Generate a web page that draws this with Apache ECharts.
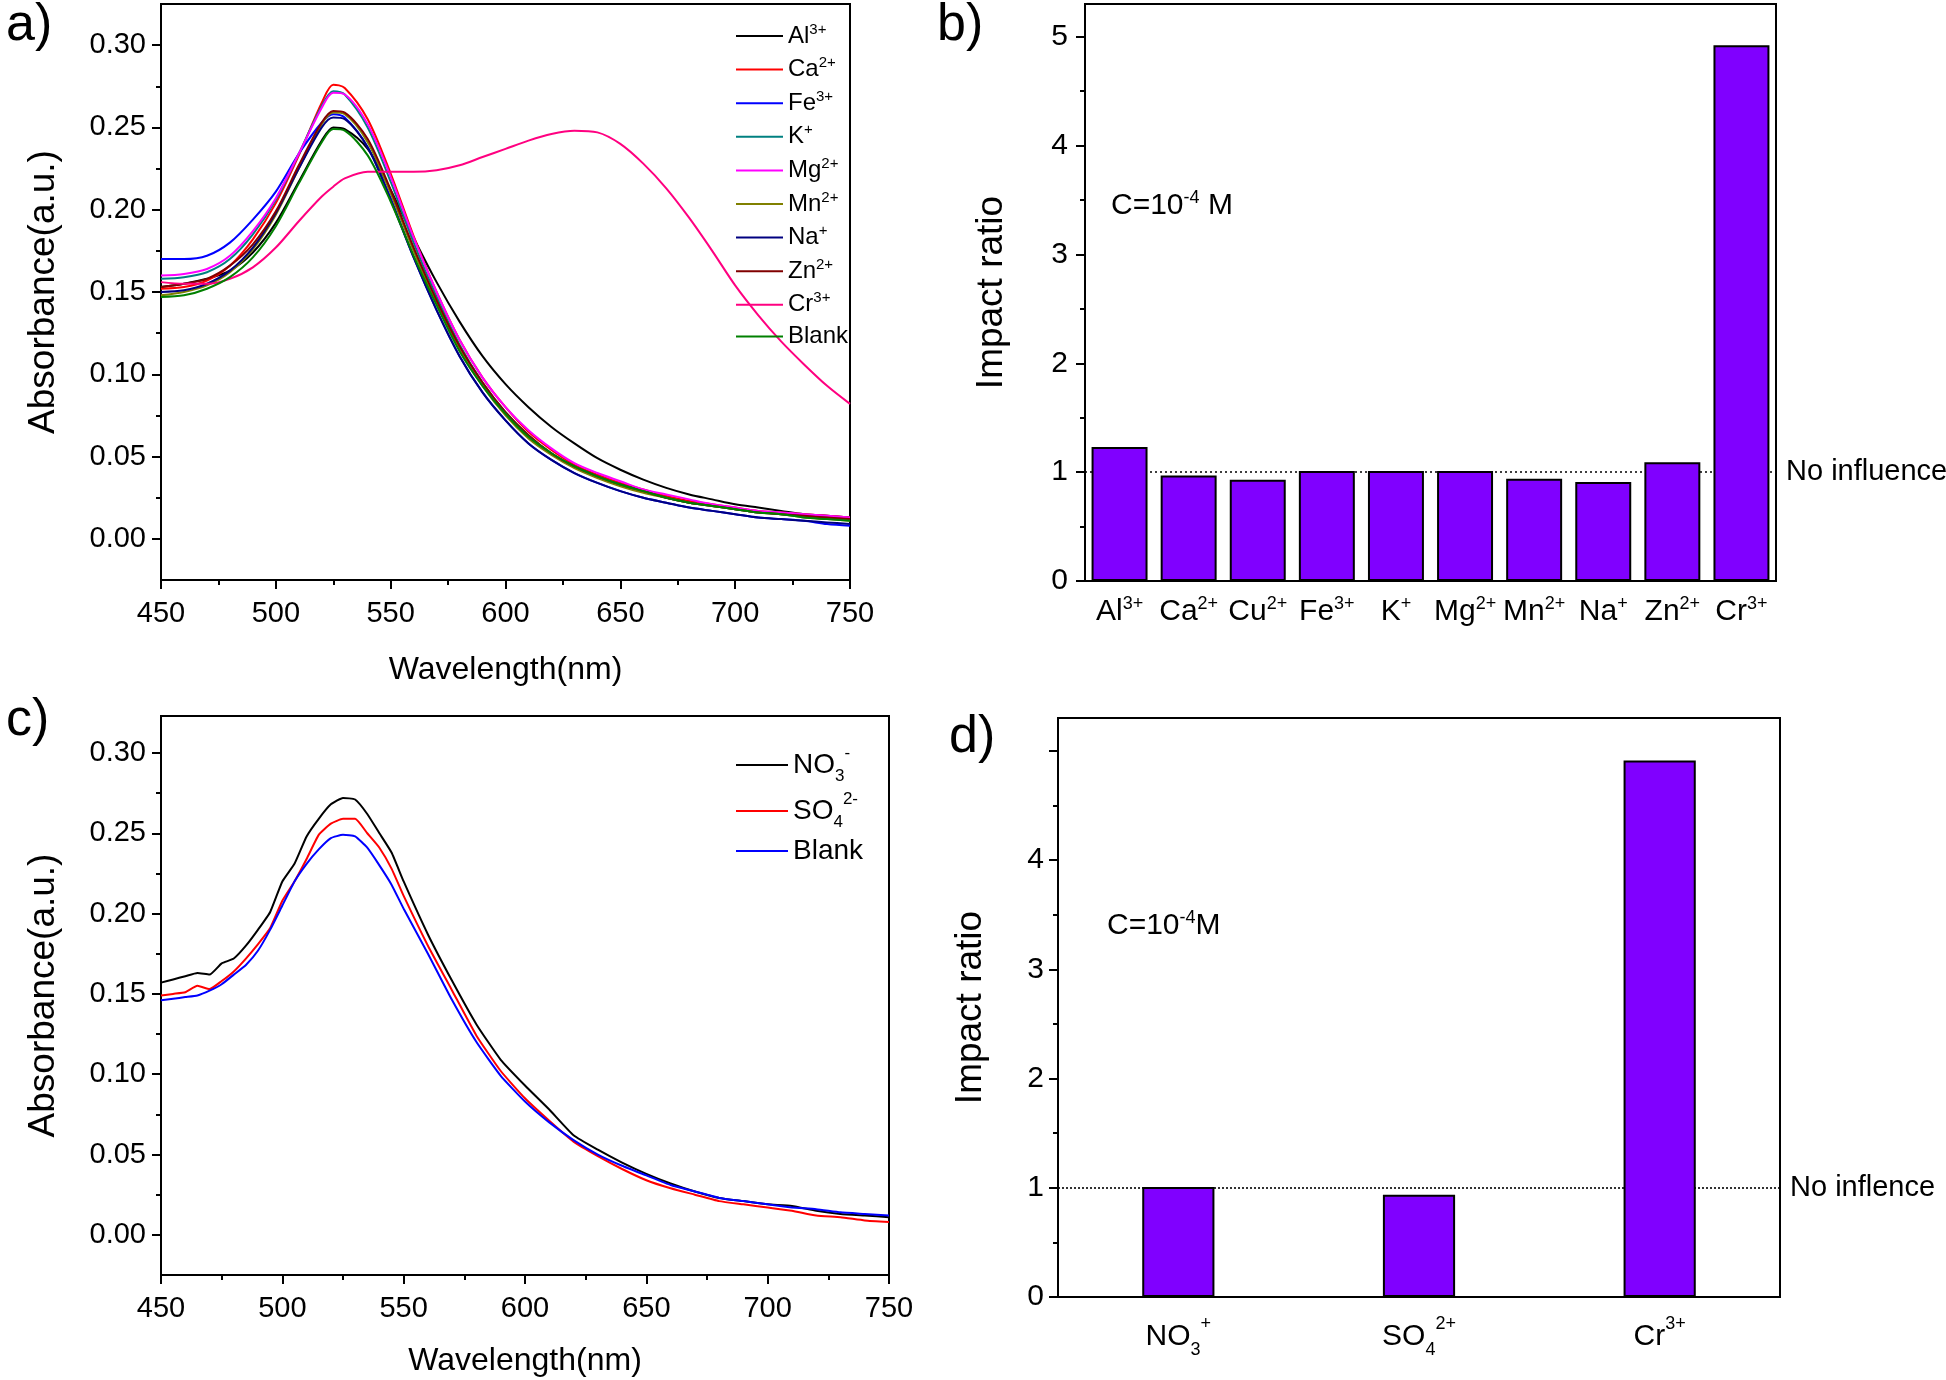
<!DOCTYPE html>
<html><head><meta charset="utf-8">
<script src="https://cdn.jsdelivr.net/npm/echarts@6/dist/echarts.min.js"></script>
<style>html,body{margin:0;padding:0;background:#fff}#c{width:1946px;height:1380px}</style>
</head><body><div id="c"></div>
<script>
// ---------- DATA ----------
const wlA = [450,460,470,480,490,500,510,520,525,530,540,550,560,570,580,590,600,610,620,630,640,650,660,670,680,690,700,710,720,730,740,750];
const ionsA = ['Al^3+','Ca^2+','Fe^3+','K^+','Mg^2+','Mn^2+','Na^+','Zn^2+','Cr^3+','Blank'];
const colorsA = ['#000000','#ff0000','#0000ff','#008080','#ff00ff','#808000','#000080','#800000','#ff0080','#008000'];
const absAl = [.153,.155,.158,.163,.174,.192,.217,.242,.250,.249,.237,.212,.183,.156,.132,.111,.094,.080,.068,.058,.049,.042,.036,.031,.027,.024,.021,.019,.017,.015,.014,.013];
const absCa = [.152,.153,.157,.166,.182,.204,.233,.265,.276,.274,.255,.222,.184,.150,.121,.098,.080,.065,.054,.045,.039,.034,.030,.026,.023,.021,.019,.017,.016,.015,.014,.013];
const absFe = [.170,.170,.172,.180,.194,.211,.234,.253,.258,.256,.238,.207,.171,.139,.111,.089,.072,.058,.048,.040,.034,.029,.025,.022,.019,.017,.015,.013,.012,.011,.009,.008];
const absK  = [.158,.159,.162,.170,.185,.206,.234,.263,.272,.270,.250,.217,.180,.147,.118,.095,.077,.063,.052,.044,.038,.033,.029,.025,.022,.020,.018,.016,.015,.014,.013,.012];
const absMg = [.160,.161,.164,.172,.187,.207,.234,.262,.271,.270,.252,.220,.183,.150,.121,.098,.080,.066,.055,.046,.040,.035,.030,.027,.024,.021,.019,.017,.016,.015,.014,.013];
const absMn = [.148,.150,.154,.162,.176,.197,.225,.252,.259,.258,.241,.210,.175,.143,.115,.093,.075,.061,.051,.043,.037,.032,.028,.025,.022,.020,.018,.016,.015,.013,.012,.011];
const absNa = [.150,.151,.155,.163,.177,.198,.225,.250,.256,.255,.238,.206,.171,.139,.111,.089,.072,.058,.048,.040,.034,.029,.025,.022,.019,.017,.015,.013,.012,.011,.010,.009];
const absZn = [.153,.155,.158,.166,.179,.199,.227,.253,.260,.259,.243,.212,.177,.145,.117,.095,.077,.063,.052,.044,.038,.033,.029,.025,.022,.020,.018,.016,.015,.014,.013,.012];
const absCr = [.156,.155,.155,.158,.165,.177,.193,.208,.214,.219,.223,.223,.223,.224,.227,.232,.237,.242,.246,.248,.247,.240,.228,.213,.195,.175,.154,.136,.120,.106,.093,.082];
const absBlankA = [.147,.148,.152,.159,.171,.190,.216,.241,.249,.248,.233,.205,.172,.142,.114,.093,.076,.062,.052,.044,.038,.033,.029,.025,.022,.020,.018,.016,.015,.013,.012,.011];
const seriesA = [absAl,absCa,absFe,absK,absMg,absMn,absNa,absZn,absCr,absBlankA];

const catsB = ['Al^3+','Ca^2+','Cu^2+','Fe^3+','K^+','Mg^2+','Mn^2+','Na^+','Zn^2+','Cr^3+'];
const ratioB = [1.23,0.97,0.93,1.01,1.01,1.01,0.94,0.91,1.09,4.92];

const wlC = [450,455,460,465,470,475,480,485,490,495,500,505,510,515,520,525,530,535,540,545,550,560,570,580,590,600,610,620,630,640,650,660,670,680,690,700,710,720,730,740,750];
const anionsC = ['NO_3^-','SO_4^2-','c:Blank'];
const colorsC = ['#000000','#ff0000','#0000ff'];
const absNO3 = [.157,.159,.161,.163,.162,.169,.172,.180,.190,.201,.220,.231,.248,.259,.268,.272,.271,.262,.250,.238,.220,.187,.158,.131,.109,.093,.078,.062,.053,.045,.038,.032,.027,.023,.021,.019,.018,.015,.013,.012,.011];
const absSO4 = [.149,.150,.151,.155,.153,.158,.164,.172,.181,.191,.208,.220,.234,.249,.256,.259,.259,.250,.241,.228,.211,.180,.152,.124,.102,.085,.071,.058,.049,.041,.034,.029,.025,.021,.019,.017,.015,.012,.011,.009,.008];
const absBlankC = [.146,.147,.148,.149,.152,.156,.162,.168,.177,.190,.205,.220,.231,.240,.247,.249,.248,.241,.230,.218,.203,.175,.146,.120,.099,.083,.070,.059,.050,.043,.037,.031,.027,.023,.021,.019,.017,.016,.014,.013,.012];
const seriesC = [absNO3,absSO4,absBlankC];

const catsD = ['NO_3^+','SO_4^2+','Cr^3+'];
const ratioD = [1.006,0.935,4.91];

const xMajor = [450,500,550,600,650,700,750];
const xMinor = [475,525,575,625,675,725];
const yMajorAbs = [0,0.05,0.10,0.15,0.20,0.25,0.30];
const yMinorAbs = [0.025,0.075,0.125,0.175,0.225,0.275];
const yMajorRatio = [0,1,2,3,4,5];
const yLabelsD = [0,1,2,3,4];
const yMinorRatio = [0.5,1.5,2.5,3.5,4.5];
const noInfluence = 1;

// ---------- STYLE ----------
const F = "'Liberation Sans', Arial, sans-serif";
const FN = "'Liberation Sans Narrow', 'Arial Narrow', 'Liberation Sans', sans-serif";
const LS = {color:'#000', width:2};

function rt(s){
  s = s.replace(/^c:/,'');
  const m = s.match(/^([^_^]*)(?:_([^^]+))?(?:\^(.+))?$/);
  let out = '{n|'+m[1]+'}';
  if (m[2]) out += '{sub|'+m[2]+'}';
  if (m[3]) out += '{sup|'+m[3]+'}';
  return out;
}
function rich(fam, n, lh, s, sl){
  return {
    n:{fontFamily:fam, fontSize:n, lineHeight:lh, color:'#000'},
    sup:{fontFamily:fam, fontSize:s, lineHeight:sl, verticalAlign:'top', color:'#000'},
    sub:{fontFamily:fam, fontSize:s, lineHeight:sl, verticalAlign:'bottom', color:'#000'}
  };
}

function valAxis(gi, pos, min, max, ticks, labels, fmt, margin, name, nameGap, nameSize, fam, fsize){
  return {gridIndex:gi, type:'value', position:pos, min:min, max:max,
    axisLine:{show:true, onZero:false, lineStyle:LS},
    axisTick:{show:true, customValues:ticks, length:9, lineStyle:LS},
    axisLabel:{show:true, customValues:labels, formatter:fmt, margin:margin, fontSize:fsize, fontFamily:fam, color:'#000'},
    splitLine:{show:false},
    name:name, nameLocation:'middle', nameGap:nameGap,
    nameTextStyle:{fontSize:nameSize, fontFamily:F, color:'#000'}};
}
function minorAxis(gi, pos, min, max, ticks){
  return {gridIndex:gi, type:'value', position:pos, min:min, max:max,
    axisLine:{show:false, onZero:false}, axisTick:{show:true, customValues:ticks, length:5, lineStyle:LS},
    axisLabel:{show:false}, splitLine:{show:false}};
}
function catAxis(gi, data, margin, rc){
  return {gridIndex:gi, type:'category', position:'bottom', data:data,
    axisLine:{show:true, onZero:false, lineStyle:LS}, axisTick:{show:false},
    axisLabel:{interval:0, margin:margin, formatter:v=>rt(v), rich:rc},
    splitLine:{show:false}};
}
const gridStyle = {show:true, borderColor:'#000', borderWidth:2, backgroundColor:'transparent', containLabel:false};

const series = [];
ionsA.forEach((n,i)=>{
  series.push({type:'line', name:n, xAxisIndex:0, yAxisIndex:0, symbol:'none', smooth:0.3,
    data: wlA.map((w,j)=>[w, seriesA[i][j]]),
    lineStyle:{width:2, color:colorsA[i]}, itemStyle:{color:colorsA[i]}});
});
anionsC.forEach((n,i)=>{
  series.push({type:'line', name:n, xAxisIndex:3, yAxisIndex:4, symbol:'none', smooth:0.15,
    data: wlC.map((w,j)=>[w, seriesC[i][j]]),
    lineStyle:{width:2, color:colorsC[i]}, itemStyle:{color:colorsC[i]}});
});
function barSeries(xi, yi, data, gapOpt, label, dash){
  return Object.assign({type:'bar', xAxisIndex:xi, yAxisIndex:yi, data:data, z:3,
    itemStyle:{color:'#8000ff', borderColor:'#000', borderWidth:2},
    markLine:{silent:true, symbol:'none', z:1, animation:false,
      lineStyle:{type:dash, color:'#000', width:1.6},
      label:{show:true, position:'end', formatter:label, fontFamily:FN, fontSize:29, color:'#000', distance:10, padding:[10,0,0,0]},
      data:[{yAxis:noInfluence}]}}, gapOpt);
}
series.push(barSeries(2, 2, ratioB, {barCategoryGap:'19%'}, 'No influence', [2,3]));
series.push(barSeries(5, 6, ratioD, {barWidth:'30%'}, 'No inflence', [2,2]));

const option = {
  animation:false,
  backgroundColor:'#fff',
  grid:[
    Object.assign({left:161, top:4, width:689, height:576}, gridStyle),
    Object.assign({left:1085, top:4, width:691, height:577}, gridStyle),
    Object.assign({left:161, top:716, width:728, height:559}, gridStyle),
    Object.assign({left:1058, top:718, width:722, height:579}, gridStyle)
  ],
  xAxis:[
    valAxis(0,'bottom',450,750,xMajor,xMajor,v=>String(v),19,'Wavelength(nm)',74,32,F,29),
    minorAxis(0,'bottom',450,750,xMinor),
    catAxis(1, catsB, 14, rich(FN,30,34,18,12)),
    valAxis(2,'bottom',450,750,xMajor,xMajor,v=>String(v),19,'Wavelength(nm)',70,32,F,29),
    minorAxis(2,'bottom',450,750,xMinor),
    catAxis(3, catsD, 18, rich(FN,30,44,18,12))
  ],
  yAxis:[
    valAxis(0,'left',-0.025,0.325,yMajorAbs,yMajorAbs,v=>v.toFixed(2),15,'Absorbance(a.u.)',99,37,F,29),
    minorAxis(0,'left',-0.025,0.325,yMinorAbs),
    valAxis(1,'left',0,5.3,yMajorRatio,yMajorRatio,v=>String(v),17,'Impact ratio',75,37,FN,30),
    minorAxis(1,'left',0,5.3,yMinorRatio),
    valAxis(2,'left',-0.025,0.323,yMajorAbs,yMajorAbs,v=>v.toFixed(2),15,'Absorbance(a.u.)',99,37,F,29),
    minorAxis(2,'left',-0.025,0.323,yMinorAbs),
    valAxis(3,'left',0,5.3,yMajorRatio,yLabelsD,v=>String(v),14,'Impact ratio',69,37,FN,30),
    minorAxis(3,'left',0,5.3,yMinorRatio)
  ],
  legend:[
    {data:ionsA, left:736, top:22, orient:'vertical', padding:0, icon:'rect', itemWidth:47, itemHeight:2, itemGap:7.6,
     selectedMode:false, formatter:n=>rt(n), textStyle:{rich:rich(F,24,28,15,8)}},
    {data:anionsC, left:736, top:745, orient:'vertical', padding:0, icon:'rect', itemWidth:52, itemHeight:2, itemGap:6,
     selectedMode:false, formatter:n=>rt(n), textStyle:{rich:rich(F,28,40,17,12)}}
  ],
  graphic:[
    {type:'text', left:6, top:0, style:{text:'a)', fontSize:52, fontFamily:F, fill:'#000'}},
    {type:'text', left:937, top:0, style:{text:'b)', fontSize:52, fontFamily:F, fill:'#000'}},
    {type:'text', left:6, top:695, style:{text:'c)', fontSize:52, fontFamily:F, fill:'#000'}},
    {type:'text', left:949, top:712, style:{text:'d)', fontSize:52, fontFamily:F, fill:'#000'}},
    {type:'text', x:1111, y:206, style:{text:'{n|C=10}{sup|-4}{n| M}', verticalAlign:'middle',
      rich:{n:{fontFamily:FN, fontSize:30, lineHeight:34, fill:'#000'}, sup:{fontFamily:FN, fontSize:18, lineHeight:12, verticalAlign:'top', fill:'#000'}}}},
    {type:'text', x:1107, y:926, style:{text:'{n|C=10}{sup|-4}{n|M}', verticalAlign:'middle',
      rich:{n:{fontFamily:FN, fontSize:30, lineHeight:34, fill:'#000'}, sup:{fontFamily:FN, fontSize:18, lineHeight:12, verticalAlign:'top', fill:'#000'}}}}
  ],
  series:series
};
const chart = echarts.init(document.getElementById('c'));
chart.setOption(option);
</script></body></html>
